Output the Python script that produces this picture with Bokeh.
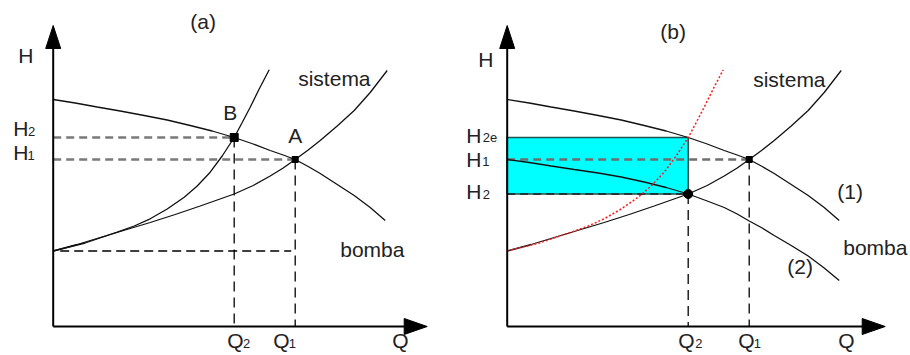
from bokeh.plotting import figure
from bokeh.layouts import row
from bokeh.models import Range1d
from bokeh.core.properties import value
from bokeh.embed import file_html
from bokeh.resources import INLINE

# ---------------- data (Q, H in drawing units) ----------------
# pump curve (1) and reduced pump curve (2)
q_pump = [0, 0.22, 0.44, 0.67, 0.91, 1.14, 1.37, 1.59, 1.81, 2.0, 2.17, 2.30, 2.42,
          2.55, 2.67, 2.84, 3.01, 3.17, 3.32]
h_pump1 = [2.27, 2.235, 2.195, 2.155, 2.11, 2.065, 2.01, 1.955, 1.89, 1.825, 1.76,
           1.715, 1.67, 1.60, 1.53, 1.42, 1.31, 1.19, 1.06]
h_pump2 = [1.67, 1.64, 1.605, 1.57, 1.535, 1.495, 1.445, 1.39, 1.325, 1.255, 1.19,
           1.125, 1.055, 0.985, 0.91, 0.81, 0.705, 0.585, 0.46]
# system curve
q_sys = [0, 0.24, 0.47, 0.72, 0.97, 1.22, 1.47, 1.64, 1.81, 2.0, 2.17, 2.30, 2.42,
         2.55, 2.67, 2.84, 3.01, 3.17, 3.34]
h_sys = [0.755, 0.82, 0.89, 0.965, 1.04, 1.12, 1.205, 1.265, 1.325, 1.41, 1.505,
         1.585, 1.67, 1.765, 1.86, 2.005, 2.16, 2.34, 2.56]
# throttled (steep) system curve
q_sys2 = [0, 0.32, 0.64, 0.81, 0.97, 1.14, 1.31, 1.44, 1.57, 1.69, 1.81, 1.89, 1.97,
          2.06, 2.16]
h_sys2 = [0.755, 0.835, 0.943, 1.005, 1.077, 1.175, 1.293, 1.405, 1.543, 1.705,
          1.89, 2.04, 2.193, 2.375, 2.567]

Q1, Q2 = 2.42, 1.81
H1, H2a, H2b, H2e, H0 = 1.67, 1.89, 1.325, 1.89, 0.755
Q_END_A, Q_END_B, H_END = 3.74, 3.78, 3.01

FONT = value("Liberation Sans")
TXT = "#222222"


def make_fig(x0, x1):
    p = figure(width=455, height=355, x_range=Range1d(x0, x1),
               y_range=Range1d(-0.29, 3.26), output_backend="svg",
               toolbar_location=None, min_border=0,
               x_axis_type=None, y_axis_type=None)
    p.outline_line_color = None
    p.grid.visible = False
    return p


def axes(p, qend):
    p.line([0, 0], [0, H_END - 0.05], line_color="black", line_width=2)
    p.line([0, qend - 0.05], [0, 0], line_color="black", line_width=2)
    # arrow heads
    p.patch([0, -0.075, 0.075], [H_END, H_END - 0.23, H_END - 0.23],
            color="black", line_width=1)
    p.patch([qend, qend - 0.23, qend - 0.23], [0, 0.08, -0.08],
            color="black", line_width=1)


def labels(p, items, size="21px"):
    for t, x, y, al in items:
        p.text(x=[x], y=[y], text=[t], text_font=FONT, text_font_size=size,
               text_color=TXT, text_align=al, text_baseline="alphabetic")


# ---------------- panel (a) ----------------
pa = make_fig(-0.527, 4.023)
pa.line([0, Q2], [H2a, H2a], line_color="#7a7a7a", line_width=2.4, line_dash="8 5")
pa.line([0, Q1], [H1, H1], line_color="#7a7a7a", line_width=2.4, line_dash="8 5")
pa.line([0.07, 2.38], [H0, H0], line_color="black", line_width=1.3, line_dash="9 5")
pa.line([Q2, Q2], [H2a, 0], line_color="black", line_width=1.3, line_dash="10 6")
pa.line([Q1, Q1], [H1, 0], line_color="black", line_width=1.3, line_dash="10 6")
pa.line(q_pump, h_pump1, line_color="#111111", line_width=1.3)
pa.line(q_sys, h_sys, line_color="#111111", line_width=1.3)
pa.line(q_sys2, h_sys2, line_color="#111111", line_width=1.3)
axes(pa, Q_END_A)
pa.scatter([Q2], [H2a], marker="square", size=8, color="black")
pa.scatter([Q1], [H1], marker="square", size=6, color="black")
labels(pa, [("(a)", 1.50, 3.05, "center"), ("H", -0.35, 2.71, "left"),
            ("H", -0.40, 1.98, "left"), ("H", -0.40, 1.74, "left"),
            ("B", 1.70, 2.14, "left"), ("A", 2.35, 1.91, "left"),
            ("sistema", 2.45, 2.48, "left"), ("bomba", 2.87, 0.77, "left"),
            ("Q", 1.74, -0.14, "left"), ("Q", 2.20, -0.14, "left"),
            ("Q", 3.39, -0.14, "left")])
labels(pa, [("2", -0.252, 1.955, "left"), ("1", -0.257, 1.715, "left"),
            ("2", 1.898, -0.165, "left"), ("1", 2.355, -0.165, "left")], "13px")

# ---------------- panel (b) ----------------
pb = make_fig(-0.517, 4.033)
pb.quad(left=[0], right=[Q2], bottom=[H2b], top=[H2e], fill_color="#00ffff",
        line_color="#1f5050", line_width=1.6)
pb.line([0, Q1], [H1, H1], line_color="#6e6e6e", line_width=2.4, line_dash="8 5")
pb.line([0, Q2], [H2b, H2b], line_color="#222222", line_width=1.5, line_dash="8 5")
pb.line([Q2, Q2], [H2b, 0], line_color="black", line_width=1.3, line_dash="10 6")
pb.line([Q1, Q1], [H1, 0], line_color="black", line_width=1.3, line_dash="10 6")
pb.line(q_pump, h_pump1, line_color="#111111", line_width=1.3)
pb.line(q_pump, h_pump2, line_color="#111111", line_width=1.3)
pb.line(q_sys, h_sys, line_color="#111111", line_width=1.3)
pb.line(q_sys2, h_sys2, line_color="#ff1a1a", line_width=1.5, line_dash="2 2")
axes(pb, Q_END_B)
pb.scatter([Q2], [H2b], marker="circle", size=9, color="black")
pb.scatter([Q1], [H1], marker="square", size=6, color="black")
labels(pb, [("(b)", 1.66, 2.95, "center"), ("H", -0.29, 2.67, "left"),
            ("H", -0.41, 1.91, "left"), ("H", -0.41, 1.67, "left"),
            ("H", -0.41, 1.35, "left"), ("sistema", 2.46, 2.47, "left"),
            ("(1)", 3.43, 1.35, "center"), ("bomba", 3.36, 0.79, "left"),
            ("(2)", 2.93, 0.60, "center"), ("Q", 1.71, -0.14, "left"),
            ("Q", 2.31, -0.14, "left"), ("Q", 3.31, -0.14, "left")])
labels(pb, [("2e", -0.245, 1.89, "left"), ("1", -0.25, 1.65, "left"),
            ("2", -0.245, 1.325, "left"), ("2", 1.88, -0.165, "left"),
            ("1", 2.465, -0.165, "left")], "13px")

layout = row(pa, pb)
open("out.html", "w").write(file_html(layout, INLINE))
